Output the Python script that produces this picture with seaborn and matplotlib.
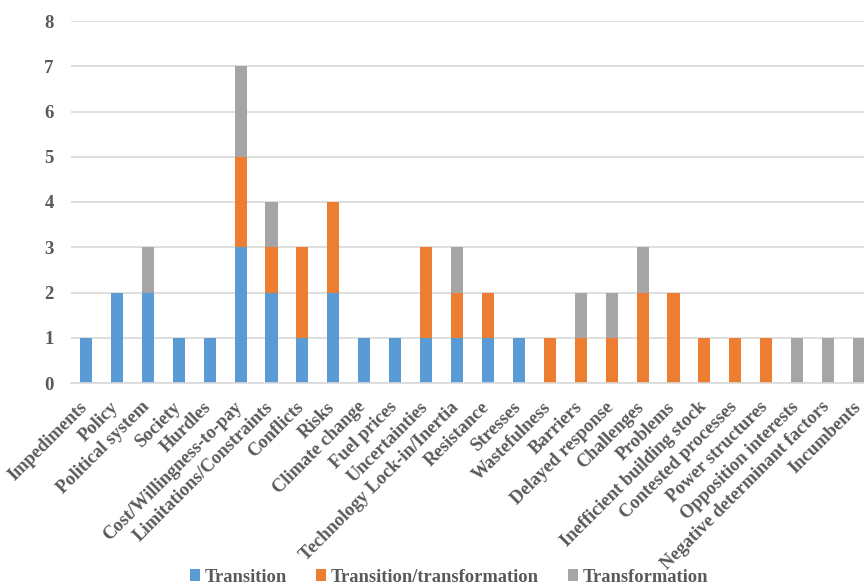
import matplotlib
matplotlib.use("Agg")
import matplotlib.pyplot as plt
import matplotlib.transforms as mtransforms
import seaborn as sns
import pandas as pd
from matplotlib.patches import Patch

categories = [
    "Impediments", "Policy", "Political system", "Society", "Hurdles",
    "Cost/Willingness-to-pay", "Limitations/Constraints", "Conflicts", "Risks",
    "Climate change", "Fuel prices", "Uncertainties", "Technology Lock-in/Inertia",
    "Resistance", "Stresses", "Wastefulness", "Barriers", "Delayed response",
    "Challenges", "Problems", "Inefficient building stock", "Contested processes",
    "Power structures", "Opposition interests", "Negative determinant factors",
    "Incumbents",
]
transition = [1, 2, 2, 1, 1, 3, 2, 1, 2, 1, 1, 1, 1, 1, 1, 0, 0, 0, 0, 0, 0, 0, 0, 0, 0, 0]
transition_transformation = [0, 0, 0, 0, 0, 2, 1, 2, 2, 0, 0, 2, 1, 1, 0, 1, 1, 1, 2, 2, 1, 1, 1, 0, 0, 0]
transformation = [0, 0, 1, 0, 0, 2, 1, 0, 0, 0, 0, 0, 1, 0, 0, 0, 1, 1, 1, 0, 0, 0, 0, 1, 1, 1]
series_names = ["Transition", "Transition/transformation", "Transformation"]
y_ticks = [0, 1, 2, 3, 4, 5, 6, 7, 8]

colors = ["#5B9BD5", "#ED7D31", "#A5A5A5"]
text_color = "#595959"

sns.set_theme(style="white")
plt.rcParams["font.family"] = ["Liberation Serif", "DejaVu Serif"]
plt.rcParams["font.weight"] = "bold"

df = pd.DataFrame({
    "category": categories,
    "t": transition,
    "tt": transition_transformation,
    "tf": transformation,
})
df["lvl1"] = df["t"]
df["lvl2"] = df["t"] + df["tt"]
df["lvl3"] = df["t"] + df["tt"] + df["tf"]

fig = plt.figure(figsize=(8.64, 5.85), dpi=100)
ax = fig.add_axes([70.5 / 864, 202 / 585, 804 / 864, 362 / 585])

# stacked bars: draw cumulative totals from the top layer down
for col, color in zip(["lvl3", "lvl2", "lvl1"], colors[::-1]):
    sns.barplot(data=df, x="category", y=col, color=color, width=0.39,
                saturation=1, ax=ax, order=categories, linewidth=0)

ax.set_ylim(0, 8)
ax.set_xlim(-0.5, len(categories) - 0.5)
ax.set_yticks(y_ticks)
ax.set_xlabel("")
ax.set_ylabel("")
ax.yaxis.grid(True, color="#D9D9D9", linewidth=1.2)
ax.set_axisbelow(True)
for s in ["top", "right", "left"]:
    ax.spines[s].set_visible(False)
ax.spines["bottom"].set_color("#D9D9D9")
ax.spines["bottom"].set_linewidth(1.2)
ax.tick_params(axis="both", length=0)
ax.tick_params(axis="y", pad=12)
ax.tick_params(axis="x", pad=4)

ax.set_yticklabels([str(v) for v in y_ticks], fontsize=13.5, fontweight="bold",
                   color=text_color)
ax.set_xticks(range(len(categories)))
ax.set_xticklabels(categories, rotation=45, ha="right", rotation_mode="anchor",
                   fontsize=13.3, fontweight="bold", color=text_color)
shift = mtransforms.ScaledTranslation(-7 / 100, -10 / 100, fig.dpi_scale_trans)
for lbl in ax.get_xticklabels():
    lbl.set_transform(lbl.get_transform() + shift)

handles = [Patch(facecolor=c, edgecolor="none") for c in colors]
fig.legend(handles, series_names, loc="center", bbox_to_anchor=(449 / 864, 8 / 585),
           ncol=3, frameon=False, handlelength=0.55, handleheight=0.55,
           handletextpad=0.27, columnspacing=1.55,
           prop={"family": "Liberation Serif", "weight": "bold", "size": 13.3},
           labelcolor=text_color)

fig.savefig("out.png", dpi=100)
